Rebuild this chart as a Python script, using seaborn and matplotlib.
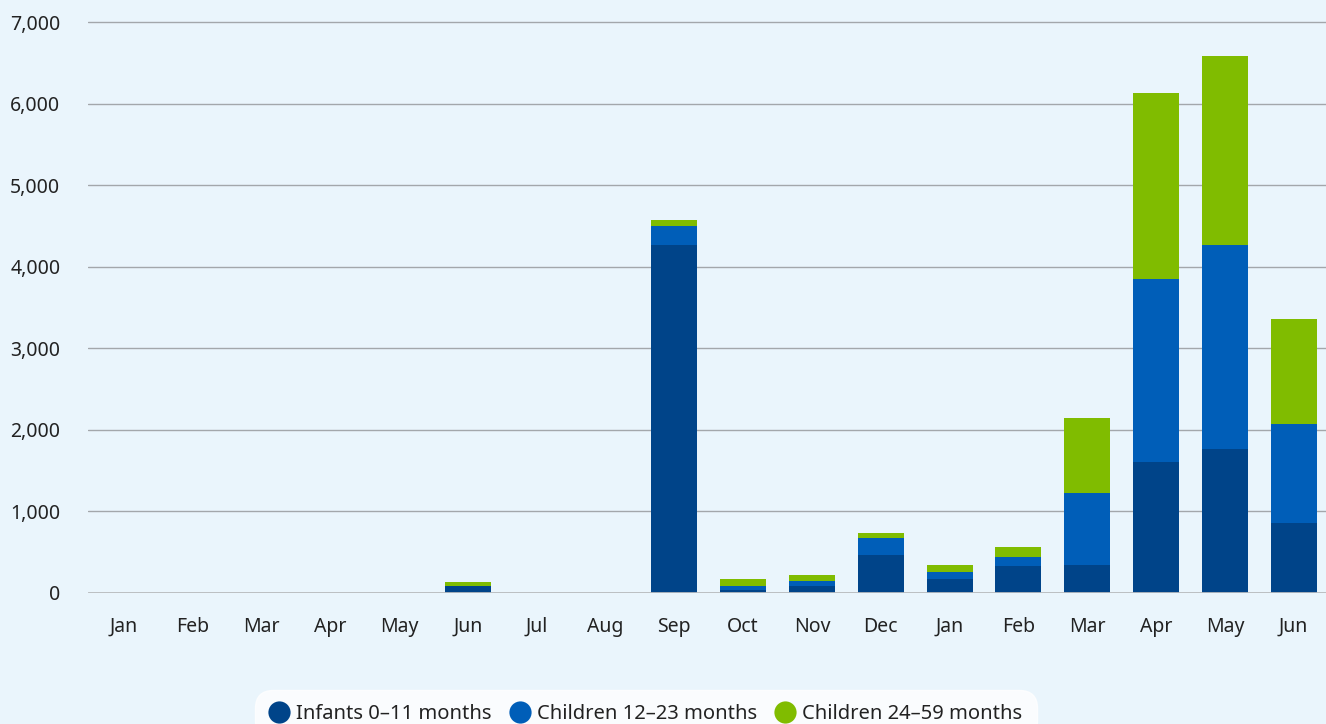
import numpy as np
import pandas as pd
import matplotlib
matplotlib.use("Agg")
import matplotlib.pyplot as plt
from matplotlib.lines import Line2D
from matplotlib.ticker import FuncFormatter
import seaborn as sns

# data (two consecutive years, Jan..Dec then Jan..Jun)
months = ["Jan", "Feb", "Mar", "Apr", "May", "Jun", "Jul", "Aug", "Sep",
          "Oct", "Nov", "Dec", "Jan", "Feb", "Mar", "Apr", "May", "Jun"]
infants = [0, 0, 0, 0, 0, 85, 0, 0, 4270, 40, 85, 465, 170, 330, 345, 1605, 1765, 860]
children_12_23 = [0, 0, 0, 0, 0, 5, 0, 0, 230, 45, 60, 210, 85, 110, 880, 2245, 2500, 1210]
children_24_59 = [0, 0, 0, 0, 0, 45, 0, 0, 75, 85, 75, 60, 85, 125, 920, 2280, 2320, 1290]

series_names = ["Infants 0\u201311 months", "Children 12\u201323 months", "Children 24\u201359 months"]
colors = ["#004489", "#005EB8", "#80BC00"]
bg = "#EAF5FC"

df = pd.DataFrame({
    "pos": np.arange(len(months)),
    "infants": infants,
    "c12": children_12_23,
    "c24": children_24_59,
})
df["lvl1"] = df["infants"]
df["lvl2"] = df["lvl1"] + df["c12"]
df["lvl3"] = df["lvl2"] + df["c24"]

sns.set_style("white")
plt.rcParams["font.family"] = ["Noto Sans", "DejaVu Sans"]

fig = plt.figure(figsize=(13.26, 7.24), dpi=100, facecolor=bg)
ax = fig.add_axes([0.0664, 0.181, 0.9336, 0.805])
ax.set_facecolor(bg)

# stacked bars: draw cumulative totals from top to bottom
for col, c in zip(["lvl3", "lvl2", "lvl1"], [colors[2], colors[1], colors[0]]):
    sns.barplot(data=df, x="pos", y=col, color=c, width=0.67,
                saturation=1, ax=ax, zorder=3, edgecolor="none", linewidth=0)

ax.set_xlim(-0.52, len(months) - 0.53)
ax.set_ylim(0, 7150)
ax.set_yticks(np.arange(0, 7001, 1000))
ax.yaxis.set_major_formatter(FuncFormatter(lambda v, p: f"{int(v):,}"))
ax.set_xticks(df["pos"])
ax.set_xticklabels(months)
ax.set_xlabel("")
ax.set_ylabel("")

ax.grid(axis="y", color="#a3a7ab", linewidth=1.0, zorder=0)
ax.grid(axis="x", visible=False)
ax.axhline(0, color="#b9bcbf", linewidth=2, zorder=4)
for s in ax.spines.values():
    s.set_visible(False)
ax.tick_params(axis="both", length=0, labelsize=14, labelcolor="#222222")
ax.tick_params(axis="y", pad=20)
ax.tick_params(axis="x", pad=17)

handles = [Line2D([0], [0], marker="o", linestyle="none", markersize=16,
                  markerfacecolor=c, markeredgecolor="none") for c in colors]
leg = fig.legend(handles, series_names, loc="lower center", ncol=3,
                 bbox_to_anchor=(0.487, -0.028), frameon=True, fancybox=True,
                 fontsize=14.5, handletextpad=0.35, columnspacing=0.9,
                 borderpad=0.5, handlelength=1.0)
leg.get_frame().set_facecolor("white")
leg.get_frame().set_edgecolor("white")
leg.get_frame().set_boxstyle("round,pad=0.2,rounding_size=0.9")
for t in leg.get_texts():
    t.set_color("#222222")

fig.savefig("out.png", dpi=100, facecolor=bg)
